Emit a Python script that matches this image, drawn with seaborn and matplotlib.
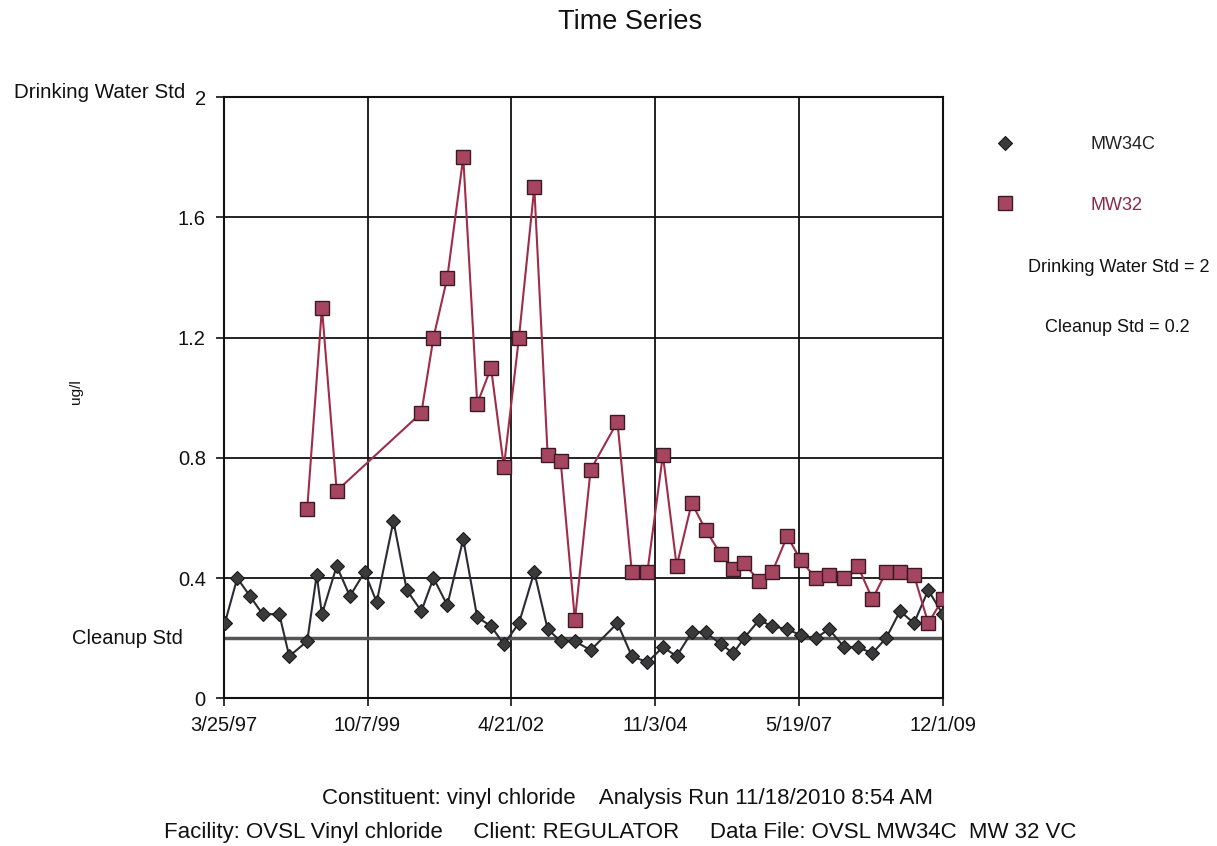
import pandas as pd
import numpy as np
import matplotlib
matplotlib.use("Agg")
import matplotlib.pyplot as plt
import matplotlib.transforms as mtransforms
import seaborn as sns

# Datas das amostras
datas = ["1997-03-31", "1997-06-19", "1997-09-09", "1997-11-29", "1998-03-17",
         "1998-05-20", "1998-09-13", "1998-11-13", "1998-12-17", "1999-03-22",
         "1999-06-15", "1999-09-18", "1999-12-05", "2000-03-22", "2000-06-16",
         "2000-09-18", "2000-12-05", "2001-03-04", "2001-06-15", "2001-09-13",
         "2001-12-11", "2002-03-04", "2002-06-09", "2002-09-16", "2002-12-11",
         "2003-03-05", "2003-06-05", "2003-09-14", "2004-03-05", "2004-06-06",
         "2004-09-14", "2004-12-23", "2005-03-22", "2005-06-27", "2005-09-25",
         "2005-12-31", "2006-03-22", "2006-05-30", "2006-09-04", "2006-11-28",
         "2007-03-05", "2007-05-30", "2007-09-04", "2007-11-29", "2008-03-06",
         "2008-06-02", "2008-09-04", "2008-12-01", "2009-03-01", "2009-05-30",
         "2009-08-30", "2009-12-01"]

mw34c = [0.25, 0.40, 0.34, 0.28, 0.28, 0.14, 0.19, 0.41, 0.28, 0.44,
         0.34, 0.42, 0.32, 0.59, 0.36, 0.29, 0.40, 0.31, 0.53, 0.27,
         0.24, 0.18, 0.25, 0.42, 0.23, 0.19, 0.19, 0.16, 0.25, 0.14,
         0.12, 0.17, 0.14, 0.22, 0.22, 0.18, 0.15, 0.20, 0.26, 0.24,
         0.23, 0.21, 0.20, 0.23, 0.17, 0.17, 0.15, 0.20, 0.29, 0.25,
         0.36, 0.28]

mw32 = [None, None, None, None, None, None, 0.63, None, 1.30, 0.69,
        None, None, None, None, None, 0.95, 1.20, 1.40, 1.80, 0.98,
        1.10, 0.77, 1.20, 1.70, 0.81, 0.79, 0.26, 0.76, 0.92, 0.42,
        0.42, 0.81, 0.44, 0.65, 0.56, 0.48, 0.43, 0.45, 0.39, 0.42,
        0.54, 0.46, 0.40, 0.41, 0.40, 0.44, 0.33, 0.42, 0.42, 0.41,
        0.25, 0.33]

rotulos_x = ["3/25/97", "10/7/99", "4/21/02", "11/3/04", "5/19/07", "12/1/09"]
ticks_x = ["1997-03-25", "1999-10-07", "2002-04-21", "2004-11-03", "2007-05-19", "2009-12-01"]
ticks_y = [0, 0.4, 0.8, 1.2, 1.6, 2]
rotulos_y = ["0", "0.4", "0.8", "1.2", "1.6", "2"]

agua_potavel = 2
limpeza = 0.2

dados = pd.DataFrame({"Data": pd.to_datetime(datas), "MW34C": mw34c, "MW32": mw32})
dados_32 = dados.dropna(subset=["MW32"])

sns.set_style("white")
plt.rcParams["font.family"] = ["Liberation Sans", "DejaVu Sans"]
plt.rcParams["text.color"] = "#111111"

fig = plt.figure(figsize=(12.17, 8.46), dpi=100)
ax = fig.add_axes([0.184, 0.1746, 0.5906, 0.7104])

# Grade preta
for t in pd.to_datetime(ticks_x):
    ax.axvline(t, color="#111111", lw=1.3, zorder=1)
for v in ticks_y:
    ax.axhline(v, color="#111111", lw=1.3, zorder=1)

# Linha do padrao de limpeza
ax.axhline(limpeza, color="#555555", lw=2.5, zorder=2)

sns.lineplot(data=dados, x="Data", y="MW34C", ax=ax, color="#2b2b35", lw=1.5,
             marker="D", markersize=7.2, markerfacecolor="#3a3a3a",
             markeredgecolor="#1a1a1a", markeredgewidth=0.8, zorder=3,
             label="MW34C")
sns.lineplot(data=dados_32, x="Data", y="MW32", ax=ax, color="#a02c4a", lw=1.5,
             marker="s", markersize=10.5, markerfacecolor="#a64560",
             markeredgecolor="#3a1a25", markeredgewidth=1.0, zorder=4,
             label="MW32")

ax.set_xlim(pd.Timestamp(ticks_x[0]), pd.Timestamp(ticks_x[-1]))
ax.set_ylim(0, 2)
ax.set_xticks(pd.to_datetime(ticks_x))
ax.set_xticklabels(rotulos_x, fontsize=14.5)
ax.set_yticks(ticks_y)
ax.set_yticklabels(rotulos_y, fontsize=14.5)
ax.tick_params(axis="both", direction="out", length=6, width=1.2, color="#111111",
               labelcolor="#111111", pad=7, bottom=True, left=True)
ax.set_xlabel("")
ax.set_ylabel("")
for s in ax.spines.values():
    s.set_color("#111111")
    s.set_linewidth(1.5)

# Textos do eixo y
trans = mtransforms.blended_transform_factory(ax.transAxes, ax.transData)
ax.text(-0.054, 2.015, "Drinking Water Std", transform=trans, ha="right",
        va="center", fontsize=14.8)
ax.text(-0.057, limpeza, "Cleanup Std", transform=trans, ha="right",
        va="center", fontsize=14.5)
fig.text(76 / 1217, 1 - 392 / 846, "ug/l", rotation=90, ha="center", va="center", fontsize=11)

fig.text(630 / 1217, 1 - 22 / 846, "Time Series", ha="center", va="center", fontsize=19.5)

# Legenda
leg = ax.legend(loc="upper left", bbox_to_anchor=(1.052, 0.962), frameon=False,
                handlelength=1.0, handletextpad=4.2, labelspacing=2.4, fontsize=13)
for line in leg.get_lines():
    line.set_linestyle("none")
leg.get_texts()[0].set_color("#222222")
leg.get_texts()[1].set_color("#8a2a45")

fig.text(1119 / 1217, 1 - 267 / 846, "Drinking Water Std = 2", ha="center", va="center", fontsize=13)
fig.text(1117 / 1217, 1 - 327 / 846, "Cleanup Std = 0.2", ha="center", va="center", fontsize=13)

fig.text(628 / 1217, 1 - 798 / 846,
         "Constituent: vinyl chloride    Analysis Run 11/18/2010 8:54 AM",
         ha="center", va="center", fontsize=16)
fig.text(620 / 1217, 1 - 832 / 846,
         "Facility: OVSL Vinyl chloride     Client: REGULATOR     Data File: OVSL MW34C  MW 32 VC",
         ha="center", va="center", fontsize=16)

fig.savefig("out.png", dpi=100)
